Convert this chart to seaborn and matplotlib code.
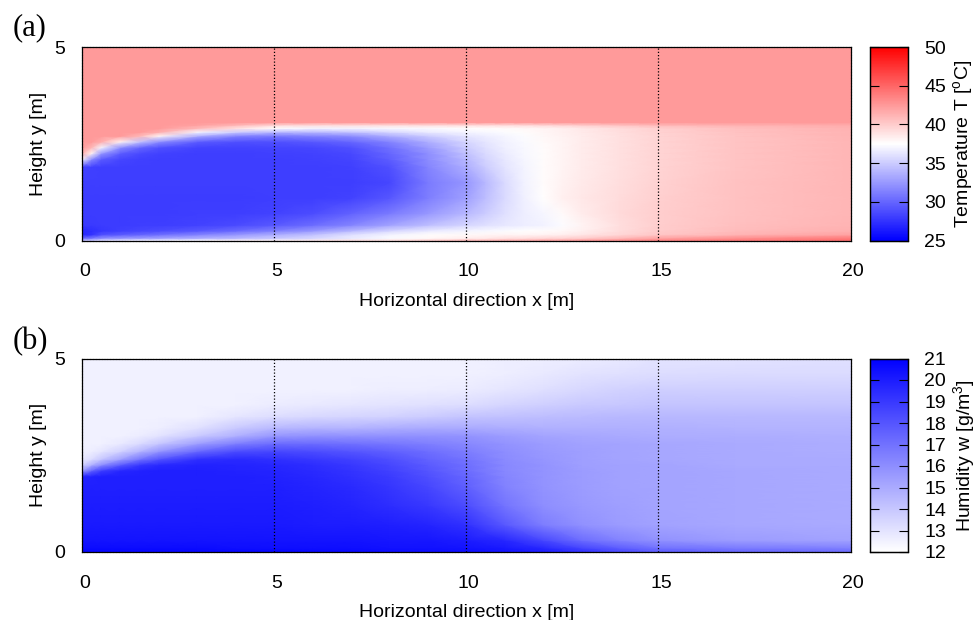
import numpy as np
import pandas as pd
import matplotlib
matplotlib.use("Agg")
import matplotlib.pyplot as plt
import matplotlib.transforms as mtransforms
from matplotlib.colors import LinearSegmentedColormap
import seaborn as sns

# temperature field, rows go from the floor (y=0) upwards
temp_x = [0, 0.25, 0.5, 1, 1.5, 2, 3, 4, 5, 6, 7, 8, 9, 10, 10.5, 11, 11.5, 12, 12.5, 13, 14, 15, 17, 20]
temp_y = [0, 0.06, 0.15, 0.25, 0.4, 0.7, 1.1, 1.5, 1.9, 2.1, 2.25, 2.4, 2.55, 2.7, 2.8, 2.9, 2.98, 3.05, 5]
temp_rows = [
    [35, 35, 36, 36.5, 37, 37, 37.5, 38, 38, 38.5, 39, 39, 40, 41, 41, 41.5, 41.5, 42, 42, 42.5, 43, 43.5, 44, 44.5],
    [30, 31, 32, 32.5, 32.7, 33, 33.5, 34, 34.8, 35.5, 36.5, 37.3, 37.8, 38.3, 38.6, 39, 39.2, 39.5, 39.7, 40, 41, 42, 43, 44],
    [27, 27.5, 29, 29.5, 30, 30.5, 31.5, 32.5, 33.5, 34.5, 36, 37, 37.6, 37.8, 37.9, 38, 38, 38.1, 38.3, 38.7, 39.5, 40.3, 41.2, 42],
    [27, 27.3, 27.7, 28.2, 28.5, 28.8, 29.3, 30.2, 31.3, 32.5, 34, 35.5, 36.5, 37, 37.2, 37.4, 37.5, 37.6, 37.8, 38.2, 39.2, 40, 40.8, 41.4],
    [27.9, 27.9, 28, 28, 28.1, 28.1, 28.3, 28.7, 29.3, 30.3, 31.5, 33, 34.3, 35.5, 36, 36.4, 36.7, 36.9, 37.4, 38, 39.1, 39.9, 40.6, 41.2],
    [28, 28, 28, 28, 28, 28, 28.1, 28.1, 28.3, 28.8, 29.8, 31, 32.5, 34, 35, 36, 36.7, 37.1, 37.7, 38.4, 39.3, 39.9, 40.5, 41.1],
    [28, 28, 28, 28, 28, 28, 28, 28, 28.1, 28.1, 28.3, 29.2, 31.2, 32.9, 34.3, 35.7, 36.8, 37.5, 38.2, 38.6, 39.2, 39.8, 40.5, 41.1],
    [28.1, 28.1, 28.1, 28.1, 28.1, 28.1, 28.1, 28.1, 28.1, 28.1, 28.1, 28.5, 31, 32.4, 34, 35.7, 36.9, 37.6, 38.1, 38.5, 39.1, 39.7, 40.5, 41.1],
    [28.3, 28.2, 28.1, 28.1, 28.1, 28.1, 28.1, 28.1, 28.1, 28.1, 28.2, 29, 31.5, 33.5, 35, 36.2, 37, 37.6, 38, 38.4, 39, 39.6, 40.4, 41.1],
    [37.8, 32, 29.5, 28.5, 28.2, 28.1, 28.1, 28.1, 28.1, 28.2, 28.4, 29.6, 31.9, 34, 35.4, 36.4, 37.1, 37.6, 38, 38.4, 39, 39.6, 40.4, 41.1],
    [41.5, 38, 32.5, 29.5, 28.7, 28.3, 28.1, 28.1, 28.2, 28.3, 28.6, 30, 32, 34.5, 35.7, 36.6, 37.2, 37.6, 38, 38.4, 39, 39.6, 40.4, 41.1],
    [42.4, 41, 37, 32, 30, 29, 28.3, 28.3, 28.4, 28.5, 29, 30.5, 32.7, 35, 36, 36.8, 37.2, 37.6, 38, 38.4, 39, 39.6, 40.4, 41.1],
    [42.4, 42.4, 41.5, 38, 34.5, 32, 29.5, 29, 29, 29.3, 30, 31.5, 33.5, 35.5, 36.3, 36.9, 37.3, 37.7, 38, 38.4, 39, 39.6, 40.4, 41.1],
    [42.4, 42.4, 42.4, 42.4, 41, 38, 33.5, 31.5, 31, 31.5, 32, 33.5, 35, 36.3, 36.7, 37.1, 37.4, 37.8, 38.1, 38.4, 39, 39.6, 40.4, 41.2],
    [42.4, 42.4, 42.4, 42.4, 42.4, 41.5, 37, 35, 34, 34, 34.5, 35.5, 36.5, 37, 37.2, 37.4, 37.6, 37.9, 38.2, 38.5, 39.1, 39.7, 40.5, 41.2],
    [42.4, 42.4, 42.4, 42.4, 42.4, 42.4, 41, 39, 37.5, 37, 37, 37.2, 37.3, 37.5, 37.6, 37.7, 37.8, 38, 38.2, 38.6, 39.2, 39.8, 40.6, 41.3],
    [42.4, 42.4, 42.4, 42.4, 42.4, 42.4, 42, 41, 39.5, 39.3, 39.2, 39.2, 39.2, 39.2, 39.2, 39.2, 39.3, 39.5, 39.7, 40, 40.5, 41, 41.3, 41.6],
    [42.4] * 24,
    [42.4] * 24,
]

# humidity field
hum_x = [0, 0.25, 0.5, 1, 1.5, 2, 3, 4, 5, 6, 7, 8, 9, 10, 11, 12, 13, 14, 15, 17, 20]
hum_y = [0, 0.1, 0.3, 0.7, 1.2, 1.7, 1.95, 2.1, 2.25, 2.4, 2.6, 2.8, 3, 3.2, 3.5, 3.8, 4.2, 4.6, 5]
hum_rows = [
    [20.8, 20.8, 20.8, 20.8, 20.8, 20.8, 20.8, 20.8, 20.8, 20.7, 20.7, 20.6, 20.6, 20.5, 20.3, 20, 19.3, 18.4, 17.8, 17.4, 17.2],
    [20.6, 20.6, 20.6, 20.6, 20.6, 20.6, 20.6, 20.5, 20.5, 20.5, 20.5, 20.4, 20.4, 20.3, 20.1, 19.6, 18.6, 17.7, 17, 16.7, 16.5],
    [20.3, 20.3, 20.3, 20.3, 20.3, 20.3, 20.3, 20.3, 20.3, 20.3, 20.3, 20.2, 20.2, 20, 19.6, 18.5, 17.2, 16.4, 15.9, 15.5, 15.3],
    [20.1, 20.1, 20.1, 20.1, 20.1, 20.1, 20.1, 20.1, 20.1, 20, 20, 19.9, 19.7, 19.3, 17.9, 16.6, 15.9, 15.5, 15.3, 15.1, 15],
    [20, 20, 20, 20, 20, 20, 20, 20, 20, 19.9, 19.7, 19.4, 19, 18.3, 16.9, 16, 15.6, 15.4, 15.2, 15.1, 15],
    [19.9, 19.9, 19.9, 19.9, 19.9, 19.9, 19.9, 19.9, 19.9, 19.7, 19.5, 19.1, 18.5, 17.6, 16.4, 15.8, 15.5, 15.3, 15.2, 15.1, 15],
    [19.7, 19.8, 19.9, 19.9, 19.9, 19.9, 19.9, 19.9, 19.8, 19.6, 19.3, 18.9, 18.2, 17.4, 16.3, 15.8, 15.5, 15.3, 15.2, 15.1, 15],
    [15.5, 17.5, 18.8, 19.6, 19.8, 19.9, 19.9, 19.8, 19.7, 19.5, 19.2, 18.7, 18, 17.2, 16.2, 15.8, 15.5, 15.3, 15.2, 15.1, 15],
    [13.6, 14.8, 16, 17.8, 19, 19.5, 19.8, 19.7, 19.6, 19.4, 19, 18.5, 17.8, 17.1, 16.2, 15.8, 15.4, 15.3, 15.2, 15, 15],
    [12.8, 13.2, 14, 15.3, 16.8, 18, 19.3, 19.5, 19.3, 19, 18.7, 18.2, 17.5, 16.9, 16.1, 15.7, 15.4, 15.2, 15.1, 15, 15],
    [12.5, 12.6, 12.9, 13.6, 14.6, 15.7, 17.3, 18.3, 18.5, 18.3, 18, 17.6, 17.1, 16.6, 16, 15.6, 15.4, 15.2, 15.1, 15, 14.9],
    [12.5, 12.5, 12.5, 12.8, 13.3, 14, 15.4, 16.5, 17.2, 17.2, 17, 16.8, 16.5, 16.2, 15.8, 15.5, 15.3, 15.2, 15.1, 15, 14.9],
    [12.5, 12.5, 12.5, 12.5, 12.7, 13, 13.9, 14.8, 15.7, 15.9, 15.9, 15.9, 15.9, 15.8, 15.5, 15.2, 15.1, 15, 14.9, 14.9, 14.8],
    [12.5, 12.5, 12.5, 12.5, 12.5, 12.6, 13.1, 13.9, 14.5, 14.7, 14.7, 14.9, 15, 15, 14.9, 14.8, 14.8, 14.8, 14.8, 14.7, 14.7],
    [12.5, 12.5, 12.5, 12.5, 12.5, 12.5, 12.5, 12.9, 13.2, 13.4, 13.5, 13.6, 13.8, 14.1, 14.2, 14.3, 14.4, 14.5, 14.5, 14.5, 14.5],
    [12.5, 12.5, 12.5, 12.5, 12.5, 12.5, 12.5, 12.5, 12.7, 12.8, 12.9, 13, 13.1, 13.2, 13.5, 13.7, 13.9, 14, 14.1, 14.1, 14.1],
    [12.5, 12.5, 12.5, 12.5, 12.5, 12.5, 12.5, 12.5, 12.5, 12.5, 12.5, 12.6, 12.6, 12.7, 12.9, 13.1, 13.4, 13.6, 13.7, 13.7, 13.7],
    [12.5, 12.5, 12.5, 12.5, 12.5, 12.5, 12.5, 12.5, 12.5, 12.5, 12.5, 12.5, 12.5, 12.5, 12.6, 12.8, 13, 13.1, 13.2, 13.3, 13.3],
    [12.5, 12.5, 12.5, 12.5, 12.5, 12.5, 12.5, 12.5, 12.5, 12.5, 12.5, 12.5, 12.5, 12.5, 12.6, 12.6, 12.7, 12.8, 13, 13, 13.1],
]

x_ticks = [0, 5, 10, 15, 20]
y_ticks = [0, 5]
temp_ticks = [25, 30, 35, 40, 45, 50]
hum_ticks = [12, 13, 14, 15, 16, 17, 18, 19, 20, 21]

sns.set_style("white")
plt.rcParams["font.family"] = ["Liberation Sans", "DejaVu Sans"]
plt.rcParams["mathtext.default"] = "regular"
plt.rcParams["text.color"] = "black"
plt.rcParams["axes.labelcolor"] = "black"
plt.rcParams["xtick.color"] = "black"
plt.rcParams["ytick.color"] = "black"

W, H = 973, 620
FS = 14


def px_axes(fig, left, top, right, bottom):
    return fig.add_axes([left / W, 1 - bottom / H, (right - left) / W, (bottom - top) / H])


def draw_field(fig, top, rows, xs, ys, cmap, vmin, vmax, cticks, clabel, tag, tag_y):
    ax = px_axes(fig, 82, top, 850.5, top + 193.5)
    cax = px_axes(fig, 869.5, top, 907.5, top + 193.5)

    df = pd.DataFrame(rows, index=ys, columns=xs)
    sns.heatmap(df, ax=ax, cbar_ax=cax, cmap=cmap, vmin=vmin, vmax=vmax,
                xticklabels=False, yticklabels=False)

    # cells -> smooth nodes at the real positions
    mesh = ax.collections[0]
    mesh._coordinates = np.stack(np.meshgrid(xs, ys), axis=-1)
    mesh._shading = "gouraud"

    ax.set_xlim(0, 20)
    ax.set_ylim(0, 5)
    ax.set_xticks(x_ticks, labels=[str(v) for v in x_ticks], fontsize=FS)
    ax.set_yticks(y_ticks, labels=[str(v) for v in y_ticks], fontsize=FS)
    ax.tick_params(axis="both", length=0)
    ax.tick_params(axis="x", pad=16.5)
    ax.tick_params(axis="y", pad=12)
    shift = mtransforms.ScaledTranslation(2.5 / 100, 0, fig.dpi_scale_trans)
    for lab in ax.get_xticklabels():
        lab.set_transform(lab.get_transform() + shift)
    ax.set_xlabel("Horizontal direction x [m]", fontsize=FS, labelpad=9)
    ax.set_ylabel("Height y [m]", fontsize=FS)
    ax.yaxis.set_label_coords((47 - 82) / 768.5, 0.5)

    ax.grid(False)
    for v in x_ticks[1:-1]:
        ax.axvline(v, color="black", lw=0.9, ls=(0, (1, 1.6)), zorder=5)
    for sp in ax.spines.values():
        sp.set_visible(True)
        sp.set_color("black")
        sp.set_linewidth(0.9)
        sp.set_linestyle((0, (1.5, 0.8)))
        sp.set_zorder(6)

    cax.set_axisbelow(False)
    cax.set_yticks(cticks, labels=[str(v) for v in cticks], fontsize=FS)
    cax.tick_params(axis="y", direction="in", left=True, right=True, length=6.5,
                    width=0.8, pad=12, labelsize=FS)
    cax.set_ylabel(clabel, fontsize=FS)
    cax.yaxis.set_label_position("right")
    cax.yaxis.set_label_coords((951 - 869.5) / 38, 0.5)
    for sp in cax.spines.values():
        sp.set_visible(True)
        sp.set_color("black")
        sp.set_linewidth(0.9)

    fig.text(13 / W, 1 - tag_y / H, tag, fontsize=22, family="Liberation Serif",
             va="center", ha="left")


fig = plt.figure(figsize=(W / 100, H / 100), dpi=100)

temp_cmap = LinearSegmentedColormap.from_list("temp", ["#0000ff", "#ffffff", "#ff0000"], N=256)
hum_cmap = LinearSegmentedColormap.from_list("hum", ["#ffffff", "#0000ff"], N=256)

draw_field(fig, 47, temp_rows, temp_x, temp_y, temp_cmap, 25, 50, temp_ticks,
           "Temperature T [$^{o}$C]", "(a)", 28)
draw_field(fig, 358.5, hum_rows, hum_x, hum_y, hum_cmap, 12, 21, hum_ticks,
           "Humidity w [g/m$^{3}$]", "(b)", 342)

fig.savefig("out.png", dpi=100)
